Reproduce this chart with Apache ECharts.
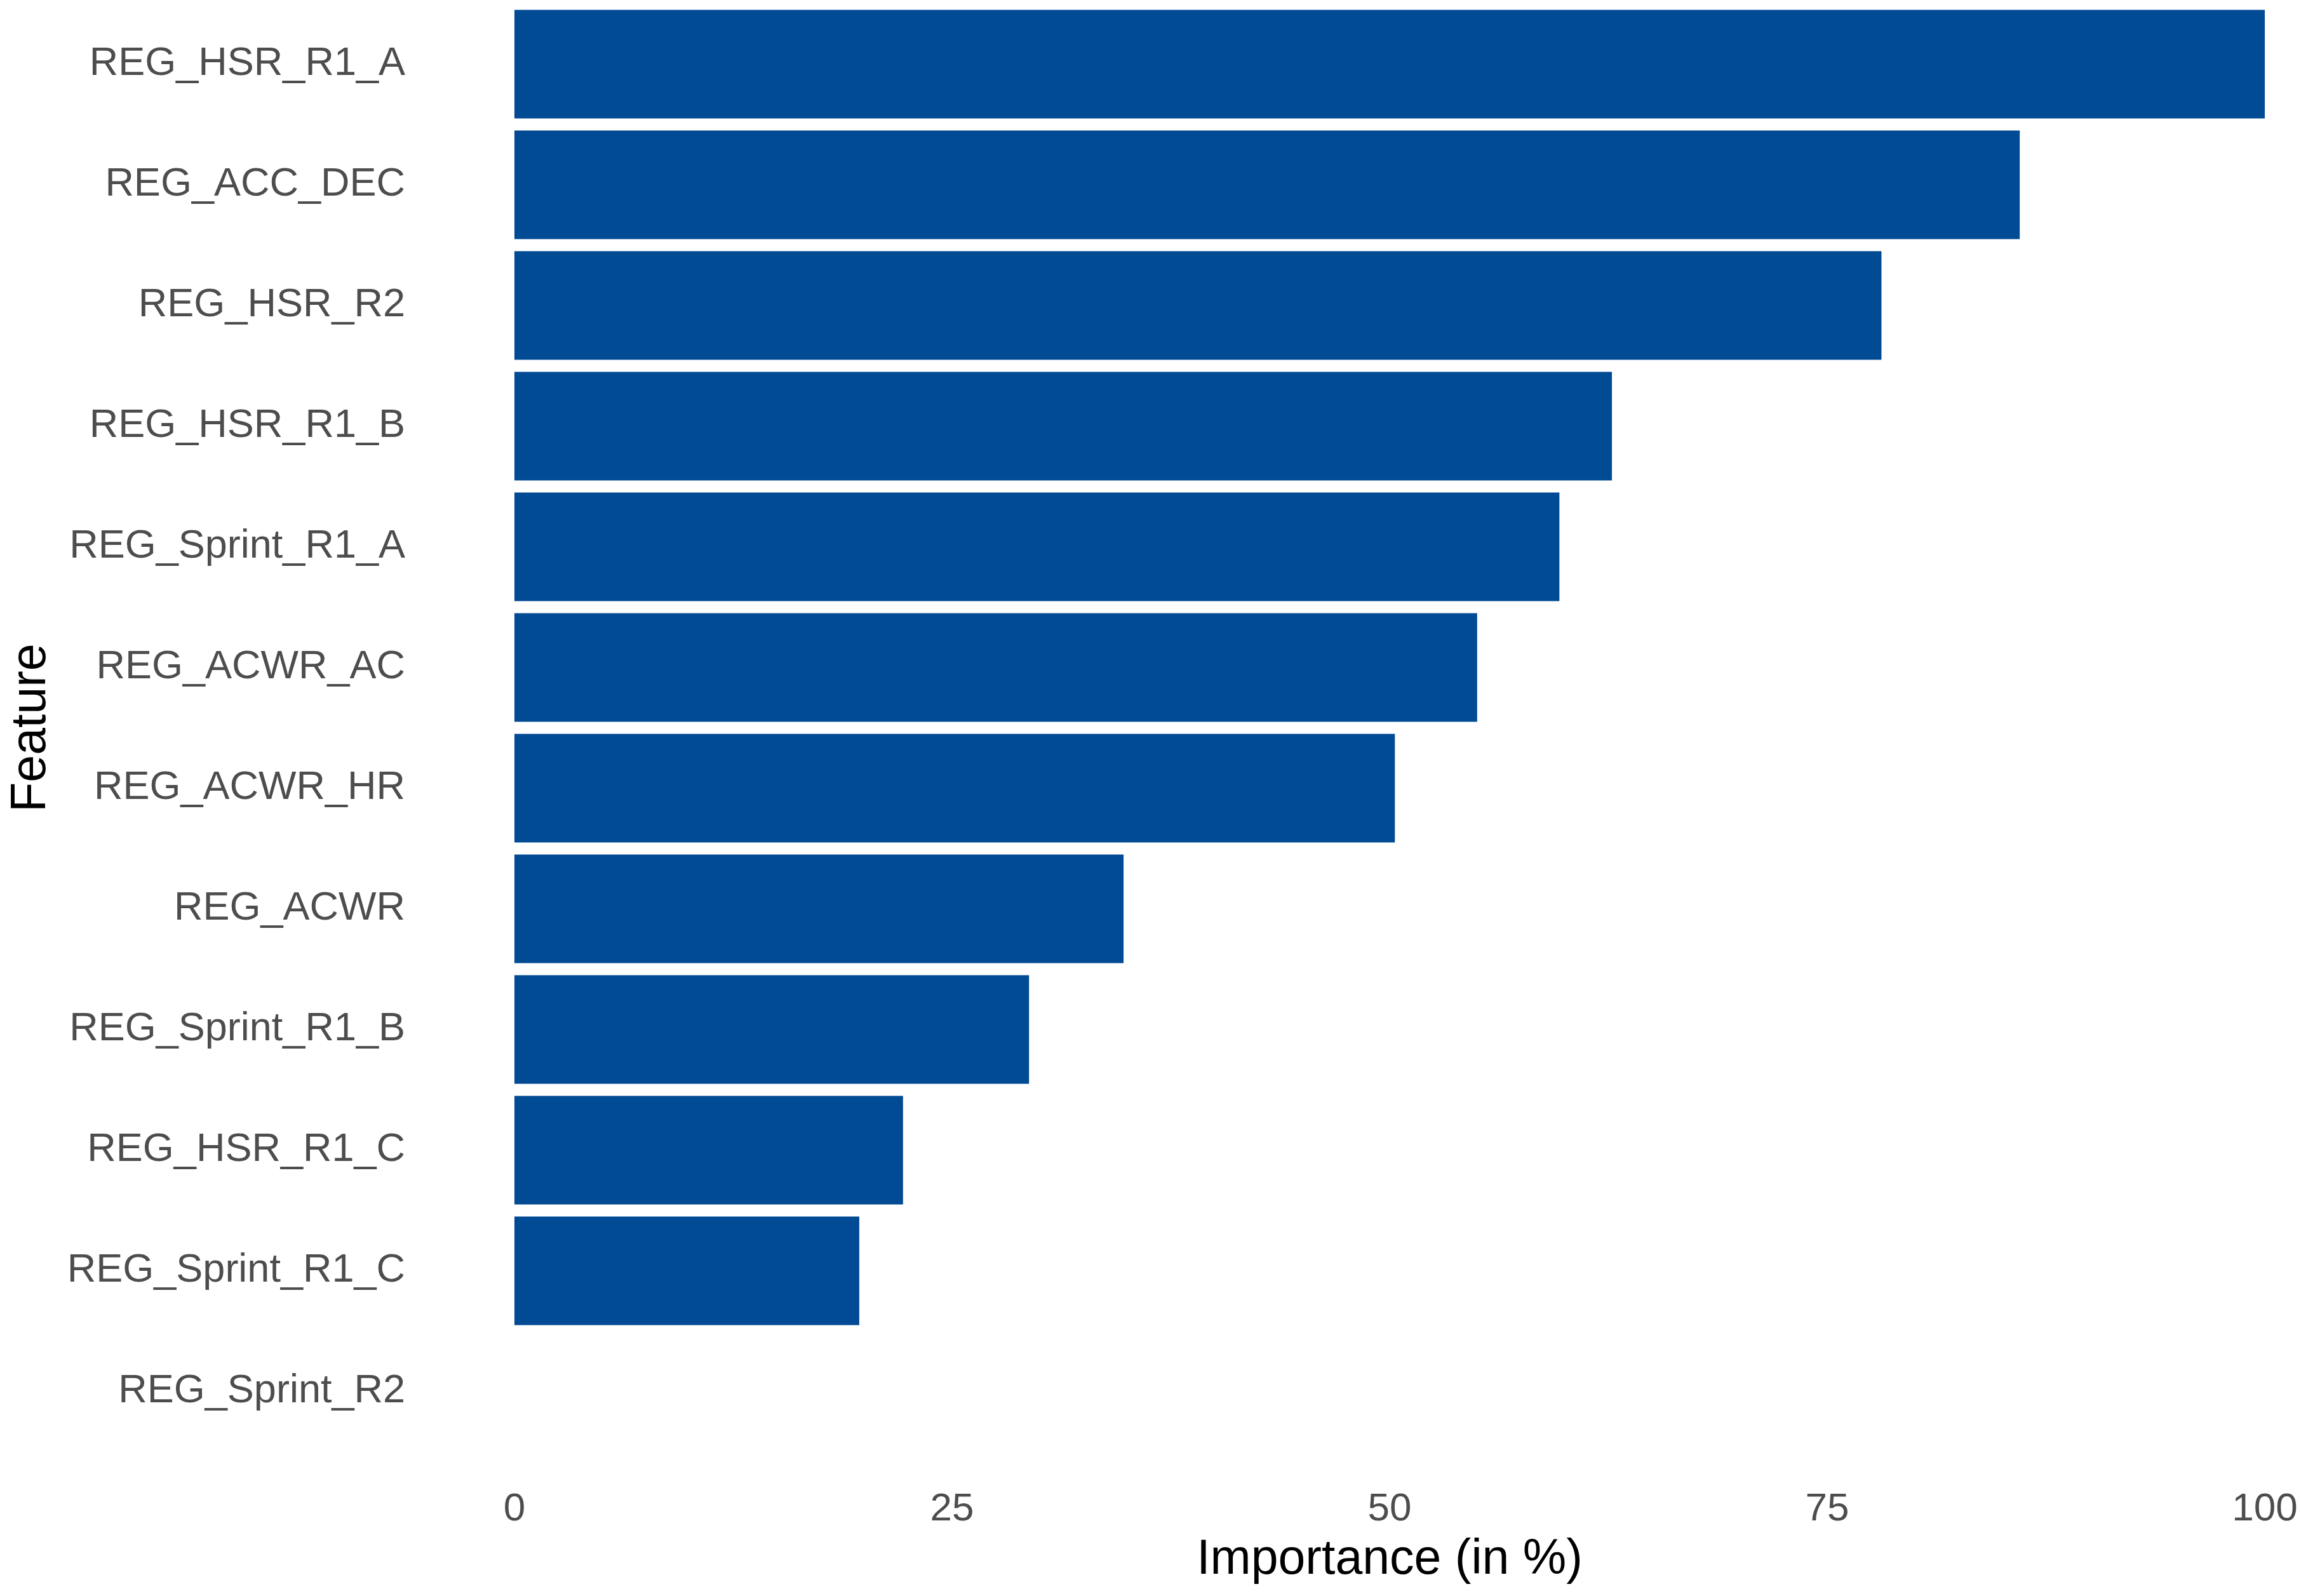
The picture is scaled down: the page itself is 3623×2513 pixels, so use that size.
<!DOCTYPE html>
<html>
<head>
<meta charset="utf-8">
<script src="https://cdn.jsdelivr.net/npm/echarts@6/dist/echarts.min.js"></script>
<style>html,body{margin:0;padding:0;background:#fff}#c{width:3623px;height:2513px}</style>
</head>
<body>
<div id="c"></div>
<script>
const features = ["REG_HSR_R1_A","REG_ACC_DEC","REG_HSR_R2","REG_HSR_R1_B","REG_Sprint_R1_A","REG_ACWR_AC","REG_ACWR_HR","REG_ACWR","REG_Sprint_R1_B","REG_HSR_R1_C","REG_Sprint_R1_C","REG_Sprint_R2"];
const importance = [100, 86.0, 78.1, 62.7, 59.7, 55.0, 50.3, 34.8, 29.4, 22.2, 19.7, 0];
const xTicks = [0, 25, 50, 75, 100];
const xTitle = "Importance (in %)";
const yTitle = "Feature";

const chart = echarts.init(document.getElementById('c'), null, {renderer: 'canvas'});
chart.setOption({
  backgroundColor: '#ffffff',
  animation: false,
  grid: {left: 810, right: 57, top: 6, bottom: 227, containLabel: false, outerBoundsMode: 'none'},
  xAxis: {
    type: 'value', min: xTicks[0], max: xTicks[xTicks.length-1], interval: 25,
    axisLine: {show: false}, axisTick: {show: false}, splitLine: {show: false},
    axisLabel: {color: '#4D4D4D', fontSize: 62, fontFamily: 'Liberation Sans', margin: 60},
    name: xTitle, nameLocation: 'middle', nameGap: 132,
    nameTextStyle: {color: '#000000', fontSize: 77, fontFamily: 'Liberation Sans'}
  },
  yAxis: {
    type: 'category', data: features, inverse: true,
    axisLine: {show: false}, axisTick: {show: false}, splitLine: {show: false},
    axisLabel: {color: '#4D4D4D', fontSize: 63, fontFamily: 'Liberation Sans', margin: 172, padding: [5, 0, 0, 0]},
    name: yTitle, nameLocation: 'middle', nameGap: 722, nameRotate: 90,
    nameTextStyle: {color: '#000000', fontSize: 77, fontFamily: 'Liberation Sans'}
  },
  series: [{
    type: 'bar', data: importance, barWidth: '90%',
    itemStyle: {color: '#014A94'}
  }]
});
</script>
</body>
</html>
